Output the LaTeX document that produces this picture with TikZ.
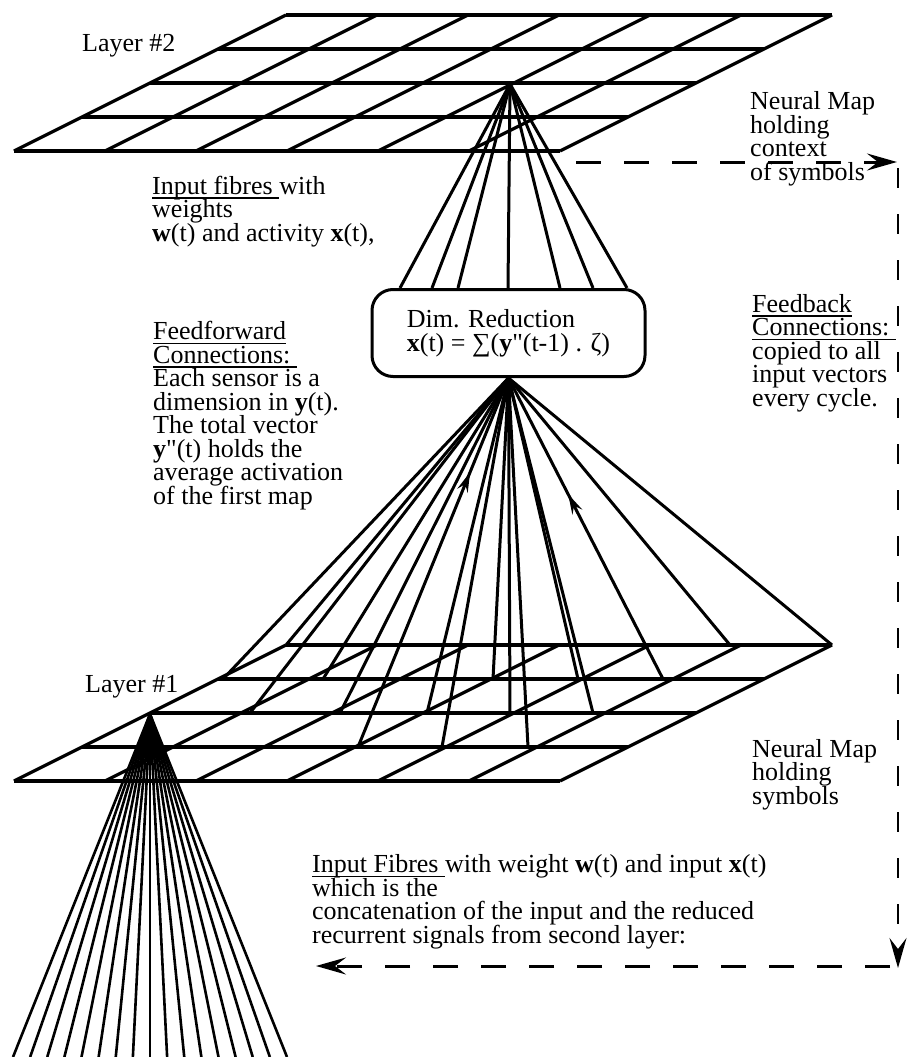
\documentclass[tikz,border=0pt]{standalone}
\usepackage{fontspec}
\setmainfont{Liberation Serif}[Ligatures=TeXOff]
\usetikzlibrary{arrows.meta, decorations.markings}

\newsavebox\ulbox
\newcommand\ulined[1]{\sbox\ulbox{#1}\rlap{\rule[-4.5pt]{\wd\ulbox}{1.5pt}}\usebox\ulbox}

\begin{document}
\begin{tikzpicture}[x=1pt, y=-1pt]
\tikzset{ >={Stealth[length=30pt, width=17pt, inset=11pt]},
  gridline/.style={line width=3.2pt},
  fibre/.style={line width=3pt},
  infibre/.style={line width=2.6pt},
  feedback/.style={line width=3pt, dash pattern=on 25pt off 23pt},
  feedbackv/.style={line width=2.5pt, dash pattern=on 20pt off 26pt},
  txt/.style={anchor=base west, align=left, inner sep=0pt,
    font={\fontsize{26}{23.5}\selectfont\lineskiplimit=-100pt}},
  dimbox/.style={draw, line width=3pt, rounded corners=21pt, minimum width=273pt,
    minimum height=87pt, align=left, inner sep=0pt,
    font={\fontsize{26}{27}\selectfont\lineskiplimit=-100pt}},
  upmark/.style={postaction={decorate}, decoration={markings,
    mark=at position #1 with {\arrowreversed{Stealth[length=20pt, width=11pt, inset=7pt]}}}},
}
\useasboundingbox (0,0) rectangle (907,1057);

%\draw [lightgray, dashed](0,0) grid (907,1057);

% the two maps
\foreach \oy in {15,645} {
  \foreach \j in {0,...,4}
    \draw [gridline] ({286-68*\j},{\oy+34*\j}) -- ++(546,0);
  \foreach \i in {0,...,6}
    \draw [gridline] ({286+91*\i},\oy) -- ++(-272,136);
}

\coordinate (A2) at (510,84);
\coordinate (C1) at (150,714);

\node [dimbox] (dimred) at (508.5,333) {\raisebox{-3pt}{Dim. Reduction}\\\textbf{x}(t) = ∑(\textbf{y}"(t-1) . ζ)};

% fibres into the box
\foreach \x in {400,432,458,508,560,593,627}
  \draw [fibre] (A2) -- (\x,0 |- dimred.north);

% feedforward fibres
\foreach \ex/\ey in {223/679, 286/645, 250/713, 323/679, 340/713, 427/713, 442/747,
    493/679, 510/713, 528/747, 578/679, 593/713, 730/645, 832/645}
  \draw [fibre] (dimred.south) -- (\ex,\ey);
\draw [fibre, upmark=0.255] (dimred.south) -- (358,747);
\draw [fibre, upmark=0.386] (dimred.south) -- (663,679);

% input fibres
\foreach \k in {0,...,16}
  \draw [infibre] (C1) -- ({13+17.125*\k},1057);

% feedback loop
\coordinate (fbA) at (576,162);
\coordinate (fbB) at (897,162);
\coordinate (fbB2) at (898,168);
\coordinate (fbC) at (898,968);
\coordinate (fbC2) at (890,966);
\coordinate (fbD) at (316,966);
\draw [feedback, ->] (fbA) -- (fbB);
\draw [feedbackv, ->] (fbB2) -- (fbC);
\draw [feedback, ->] (fbC2) -- (fbD);

% texts (anchored at the baseline of their last line)
\node [txt] (layer2) at (82,52) {Layer \#2};
\node [txt] (ctxmap) at (750,180) {Neural Map\\holding\\context\\of symbols};
\node [txt] (infib2) at (152,241) {\ulined{Input fibres\ }with\\weights\\\textbf{w}(t) and activity \textbf{x}(t),};
\node [txt] (ffwd) at (153,504) {\ulined{Feedforward}\\\ulined{Connections:\ }\\Each sensor is a\\dimension in \textbf{y}(t).\\The total vector\\\textbf{y}"(t) holds the\\average activation\\of the first map};
\node [txt] (fback) at (752,406) {\ulined{Feedback}\\\ulined{Connections:\ }\\copied to all\\input vectors\\every cycle.};
\node [txt] (layer1) at (85,692) {Layer \#1};
\node [txt] (symmap) at (752,804) {Neural Map\\holding\\symbols};
\node [txt] (infib1) at (312,943) {\ulined{Input Fibres\ }with weight \textbf{w}(t) and input \textbf{x}(t)\\which is the\\concatenation of the input and the reduced\\recurrent signals from second layer:};
\end{tikzpicture}
\end{document}
